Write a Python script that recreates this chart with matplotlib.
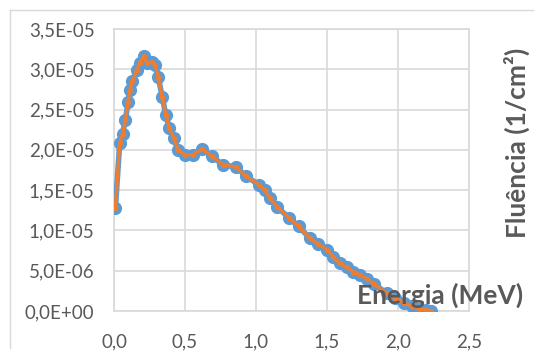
import matplotlib
matplotlib.use("Agg")
import matplotlib.pyplot as plt
from matplotlib.lines import Line2D

energy = [0.01, 0.04, 0.06, 0.08, 0.10, 0.11, 0.13, 0.16, 0.18, 0.21, 0.23, 0.265,
          0.29, 0.31, 0.34, 0.365, 0.39, 0.42, 0.45, 0.50, 0.555, 0.62, 0.69, 0.77,
          0.86, 0.93, 1.02, 1.06, 1.10, 1.15, 1.23, 1.30, 1.38, 1.44, 1.50, 1.545,
          1.59, 1.64, 1.685, 1.73, 1.78, 1.83, 1.92, 1.98, 2.04, 2.10, 2.15, 2.20, 2.23]
fluence = [1.28e-05, 2.08e-05, 2.20e-05, 2.37e-05, 2.60e-05, 2.74e-05, 2.85e-05,
           2.99e-05, 3.08e-05, 3.16e-05, 3.08e-05, 3.09e-05, 3.05e-05, 2.91e-05,
           2.66e-05, 2.43e-05, 2.27e-05, 2.15e-05, 2.00e-05, 1.94e-05, 1.94e-05,
           2.01e-05, 1.92e-05, 1.81e-05, 1.79e-05, 1.67e-05, 1.57e-05, 1.50e-05,
           1.40e-05, 1.29e-05, 1.16e-05, 1.05e-05, 0.90e-05, 0.83e-05, 0.76e-05,
           0.67e-05, 0.59e-05, 0.54e-05, 0.49e-05, 0.45e-05, 0.40e-05, 0.34e-05,
           0.22e-05, 0.16e-05, 0.10e-05, 0.06e-05, 0.03e-05, 0.01e-05, 0.0]

xticks = [0.0, 0.5, 1.0, 1.5, 2.0, 2.5]
xtick_labels = ["0,0", "0,5", "1,0", "1,5", "2,0", "2,5"]
yticks = [0, 5e-06, 1e-05, 1.5e-05, 2e-05, 2.5e-05, 3e-05, 3.5e-05]
ytick_labels = ["0,0E+00", "5,0E-06", "1,0E-05", "1,5E-05", "2,0E-05",
                "2,5E-05", "3,0E-05", "3,5E-05"]

plt.rcParams['font.family'] = ['Lato', 'DejaVu Sans']

fig = plt.figure(figsize=(5.34, 3.58), dpi=100)
ax = fig.add_axes([114/534, 1-311/358, (469-114)/534, (311-29)/358])

grid_c = "#d9d9d9"
text_c = "#595959"

ax.plot(energy, fluence, color="#5B9BD5", lw=4, marker="o", ms=8.5, zorder=3)
ax.plot(energy, fluence, color="#ED7D31", lw=2.4, marker="o", ms=3, zorder=4)

ax.set_xlim(0, 2.5)
ax.set_ylim(0, 3.5e-05)
ax.set_xticks(xticks)
ax.set_xticklabels(xtick_labels)
ax.set_yticks(yticks)
ax.set_yticklabels(ytick_labels)
ax.grid(True, color=grid_c, lw=1.2)
ax.set_axisbelow(True)
for s in ax.spines.values():
    s.set_color(grid_c)
    s.set_linewidth(1.2)
ax.tick_params(length=0, labelsize=13.5, colors=text_c, pad=14)
ax.tick_params(axis='x', pad=16)

fig.text(357/534, 1-295/358, "Energia (MeV)", ha="left", va="center",
         fontsize=19, fontweight="bold", color=text_c)
fig.text(517/534, 1-143/358, "Fluência (1/cm²)", ha="center", va="center",
         rotation=90, fontsize=19, fontweight="bold", color=text_c)

fig.add_artist(Line2D([10/534, 10/534], [1-10/358, 1-348/358], transform=fig.transFigure,
                      color=grid_c, lw=1))
fig.add_artist(Line2D([10/534, 1.0], [1-10/358, 1-10/358], transform=fig.transFigure,
                      color=grid_c, lw=1))

fig.savefig("out.png", dpi=100)
